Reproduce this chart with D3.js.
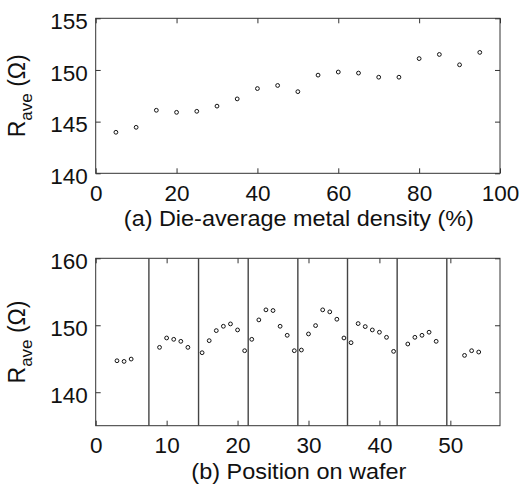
<!DOCTYPE html>
<html><head><meta charset="utf-8">
<script src="https://cdn.jsdelivr.net/npm/d3@7/dist/d3.min.js"></script>
<style>
body{margin:0;background:#fff;}
text{font-family:"Liberation Sans",Arial,sans-serif;fill:#111;}
</style></head>
<body>
<svg id="c" width="519" height="487"></svg>
<script>
// ---- data ----
const densityX = [5,10,15,20,25,30,35,40,45,50,55,60,65,70,75,80,85,90,95];
const densityR = [143.97,144.45,146.1,145.9,146.0,146.5,147.2,148.2,148.5,147.9,149.5,149.8,149.7,149.3,149.3,151.1,151.5,150.5,151.7];
const positionX = [3,4,5, 9,10,11,12,13, 15,16,17,18,19,20, 21,22,23,24,25,26,27, 28,29,30,31,32,33,34, 35,36,37,38,39,40,41, 42,44,45,46,47,48, 52,53,54];
const positionR = [144.7,144.6,144.95, 146.7,148.1,147.9,147.6,146.7, 145.9,147.7,149.2,149.85,150.2,149.3, 146.2,147.9,150.8,152.3,152.2,149.85,148.5, 146.2,146.3,148.7,149.95,152.3,152.0,150.9, 148.1,147.4,150.25,149.8,149.3,148.96,148.2, 146.1,147.2,148.2,148.5,148.96,147.6, 145.5,146.2,146.0];
const boundaries = [7.5,14.5,21.5,28.5,35.5,42.5,49.5];
const topXTicks = [0,20,40,60,80,100];
const topYTicks = [140,145,150,155];
const botXTicks = [0,10,20,30,40,50];
const botYTicks = [140,150,160];
const xLabelA = "(a) Die-average metal density (%)";
const xLabelB = "(b) Position on wafer";

const svg = d3.select("#c");
const L = 95.7, R = 500;

function panel(opts){
  const {x, y, top, bottom, xt, yt, xlabel, xlabelLen} = opts;
  const g = svg.append("g");
  const gb = g.append("g").attr("transform",`translate(0,${bottom})`)
    .call(d3.axisBottom(x).tickValues(xt).tickSize(-5).tickPadding(12).tickFormat(d3.format("d")));
  const gt = g.append("g").attr("transform",`translate(0,${top})`)
    .call(d3.axisTop(x).tickValues(xt).tickSize(-5).tickFormat(""));
  const gl = g.append("g").attr("transform",`translate(${L},0)`)
    .call(d3.axisLeft(y).tickValues(yt).tickSize(-5).tickPadding(8).tickFormat(d3.format("d")));
  const gr = g.append("g").attr("transform",`translate(${R},0)`)
    .call(d3.axisRight(y).tickValues(yt).tickSize(-5).tickFormat(""));
  [gb,gt,gl,gr].forEach(a=>{
    a.select(".domain").remove();
    a.selectAll("line").attr("stroke","#333").attr("stroke-width",1);
    a.selectAll("text").style("font-family",'"Liberation Sans",Arial,sans-serif').style("font-size","22.5px").attr("fill","#111");
  });
  gb.selectAll("text").attr("dy","0.68em");
  gl.selectAll("text").attr("transform","translate(0,3)");
  g.append("rect").attr("x",L).attr("y",top).attr("width",R-L).attr("height",bottom-top)
    .attr("fill","none").attr("stroke","#333").attr("stroke-width",1);
  g.append("text").attr("x",(L+R)/2+1).attr("y",bottom+53).attr("text-anchor","middle")
    .style("font-size","22px").attr("textLength",xlabelLen).attr("lengthAdjust","spacingAndGlyphs").text(xlabel);
  const cy = (top+bottom)/2;
  const yl = g.append("text").attr("transform",`translate(25,${cy}) rotate(-90)`).attr("text-anchor","middle").style("font-size","23px");
  yl.append("tspan").text("R");
  yl.append("tspan").attr("dy",7).style("font-size","17px").text("ave");
  yl.append("tspan").attr("dy",-7).text("\u00a0(\u03a9)");
  return g;
}

// top panel
const x1 = d3.scaleLinear().domain([0,100]).range([L,R]);
const y1 = d3.scaleLinear().domain([140,155]).range([173.3,18.3]);
const p1 = panel({x:x1,y:y1,top:18.3,bottom:173.3,xt:topXTicks,yt:topYTicks,xlabel:xLabelA,xlabelLen:350});
p1.append("g").selectAll("circle").data(densityX.map((d,i)=>[d,densityR[i]])).join("circle")
  .attr("cx",d=>x1(d[0])).attr("cy",d=>y1(d[1])).attr("r",1.9)
  .attr("fill","none").attr("stroke","#111").attr("stroke-width",1);

// bottom panel
const x2 = d3.scaleLinear().domain([0,57]).range([L,R]);
const y2 = d3.scaleLinear().domain([135,160]).range([425.7,258.3]);
const p2 = panel({x:x2,y:y2,top:258.3,bottom:425.7,xt:botXTicks,yt:botYTicks,xlabel:xLabelB,xlabelLen:215});
p2.append("g").selectAll("line").data(boundaries).join("line")
  .attr("x1",d=>x2(d)).attr("x2",d=>x2(d)).attr("y1",y2(160)).attr("y2",y2(135))
  .attr("stroke","#444").attr("stroke-width",1.4);
p2.append("g").selectAll("circle").data(positionX.map((d,i)=>[d,positionR[i]])).join("circle")
  .attr("cx",d=>x2(d[0])).attr("cy",d=>y2(d[1])).attr("r",1.9)
  .attr("fill","none").attr("stroke","#111").attr("stroke-width",1);
</script>
</body></html>
